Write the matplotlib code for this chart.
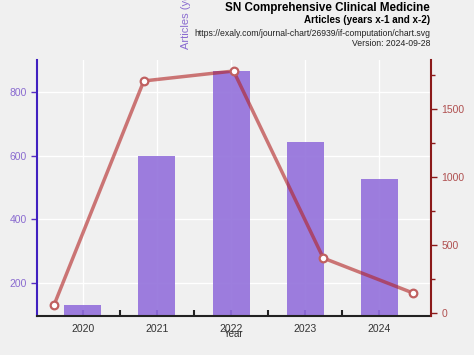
import matplotlib.pyplot as plt
from matplotlib.ticker import MultipleLocator

plt.rcParams['font.family'] = ['Liberation Sans', 'DejaVu Sans']

years = [2020, 2021, 2022, 2023, 2024]
articles = [131, 600, 866, 641, 526]
citations = [59, 1706, 1779, 404, 147]

bg = '#f0f0f0'
fig = plt.figure(figsize=(4.74, 3.55), dpi=100, facecolor=bg)
pos = [37 / 474, 39 / 355, 394 / 474, 256 / 355]

# bars on a categorical axis
ax = fig.add_axes(pos, facecolor=bg)
xs = list(range(len(years)))
ax.bar(xs, articles, width=0.5, color='#9370DB', alpha=0.9, zorder=2)
ax.set_xlim(-0.62, 4.70)
ax.set_ylim(96, 900)
ax.set_xticks(xs)
ax.set_xticklabels([str(y) for y in years])
ax.set_xticks([i + 0.5 for i in xs[:-1]], minor=True)
ax.set_yticks([200, 400, 600, 800])
ax.grid(True, color='white', linewidth=1, zorder=0)
ax.set_axisbelow(True)
ax.tick_params(axis='x', which='major', direction='in', length=4, width=1.5,
               color='#3a1a8a', labelsize=7.5, labelcolor='#333333', pad=6)
ax.tick_params(axis='x', which='minor', direction='in', length=4, width=1.5, color='#222222')
ax.tick_params(axis='y', direction='out', length=4, width=1, color='#5a2fc2',
               labelsize=7.5, labelcolor='#8a6bd0')
for s in ['top', 'right']:
    ax.spines[s].set_visible(False)
ax.spines['left'].set_color('#4020c0')
ax.spines['left'].set_linewidth(1.5)
ax.spines['bottom'].set_color('#222222')
ax.spines['bottom'].set_linewidth(1.5)
ax.set_xlabel('Year', fontsize=7, color='#333333', labelpad=-4)

# line on its own axes, right y axis
ax2 = fig.add_axes(pos, facecolor='none')
ax2.plot(years, citations, color='#b22222', alpha=0.6, linewidth=2.5, zorder=3)
ax2.plot(years, citations, linestyle='none', marker='o', markersize=5.5,
         markerfacecolor='white', markeredgecolor='#c06060', markeredgewidth=1.6, zorder=4)
ax2.set_xlim(2019.81, 2024.20)
ax2.set_ylim(-22, 1860)
ax2.xaxis.set_visible(False)
ax2.yaxis.tick_right()
ax2.yaxis.set_major_locator(MultipleLocator(500))
ax2.yaxis.set_minor_locator(MultipleLocator(250))
ax2.tick_params(axis='y', which='major', direction='out', length=4, width=1,
                color='#8b1a1a', labelsize=7.5, labelcolor='#b05050')
ax2.tick_params(axis='y', which='minor', direction='out', length=3, width=1, color='#8b1a1a')
for s in ['top', 'left', 'bottom']:
    ax2.spines[s].set_visible(False)
ax2.spines['right'].set_color('#8b1a1a')
ax2.spines['right'].set_linewidth(1.5)

# header texts
fig.text(430 / 474, 1 - 8 / 355, 'SN Comprehensive Clinical Medicine', ha='right', va='center',
         fontsize=8.4, fontweight='bold', color='black')
fig.text(430 / 474, 1 - 20 / 355, 'Articles (years x-1 and x-2)', ha='right', va='center',
         fontsize=7.1, fontweight='bold', color='black')
fig.text(430 / 474, 1 - 33 / 355, 'https://exaly.com/journal-chart/26939/if-computation/chart.svg',
         ha='right', va='center', fontsize=6.2, color='#222222')
fig.text(430 / 474, 1 - 44 / 355, 'Version: 2024-09-28', ha='right', va='center',
         fontsize=6.2, color='#222222')
fig.text(186 / 474, 1 - 49 / 355, 'Articles (years x-1 and x-2)', rotation=90, ha='center',
         va='bottom', fontsize=8, color='#8a6bd0')

fig.savefig('out.png', dpi=100, facecolor=bg)
